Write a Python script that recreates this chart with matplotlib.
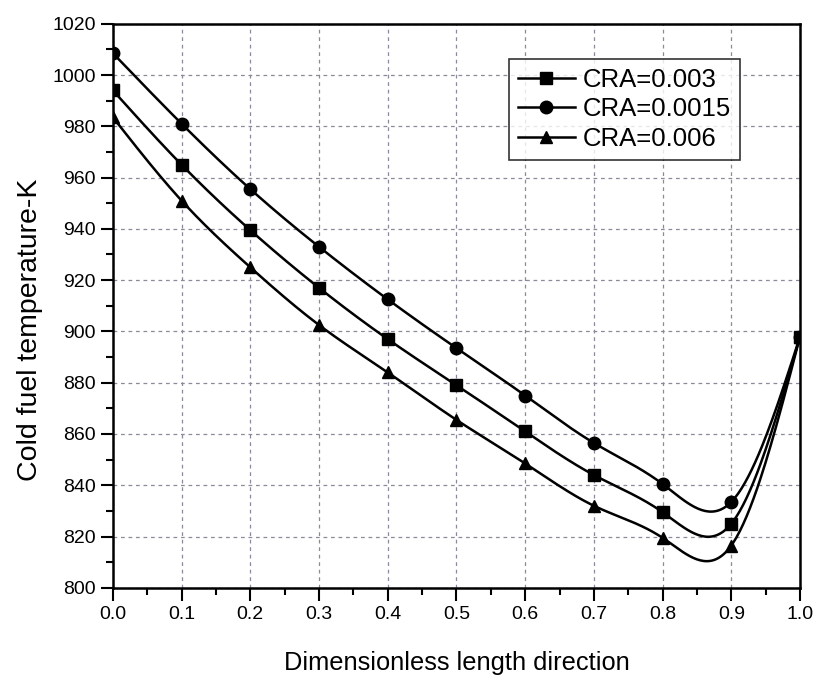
import numpy as np
import matplotlib.pyplot as plt

x = [0.0, 0.1, 0.2, 0.3, 0.4, 0.5, 0.6, 0.7, 0.8, 0.9, 1.0]
cra_003 = [994, 965, 939.5, 917, 897, 879, 861, 844, 829.5, 825, 898]
cra_0015 = [1008.5, 981, 955.5, 933, 912.5, 893.5, 875, 856.5, 840.5, 833.5, 898]
cra_006 = [983.5, 951, 925, 902.5, 884, 865.5, 848.5, 832, 819.5, 816.5, 898]


def natural_spline(xs, ys, n=400):
    # smooth line through the points (natural cubic spline)
    xs = np.asarray(xs, float)
    ys = np.asarray(ys, float)
    k = len(xs)
    h = np.diff(xs)
    A = np.zeros((k, k))
    b = np.zeros(k)
    A[0, 0] = A[-1, -1] = 1
    for i in range(1, k - 1):
        A[i, i - 1] = h[i - 1]
        A[i, i] = 2 * (h[i - 1] + h[i])
        A[i, i + 1] = h[i]
        b[i] = 6 * ((ys[i + 1] - ys[i]) / h[i] - (ys[i] - ys[i - 1]) / h[i - 1])
    M = np.linalg.solve(A, b)
    xx = np.linspace(xs[0], xs[-1], n)
    idx = np.clip(np.searchsorted(xs, xx) - 1, 0, k - 2)
    x0, x1 = xs[idx], xs[idx + 1]
    hh = x1 - x0
    t0, t1 = x1 - xx, xx - x0
    yy = (M[idx] * t0**3 + M[idx + 1] * t1**3) / (6 * hh) \
        + (ys[idx] / hh - M[idx] * hh / 6) * t0 \
        + (ys[idx + 1] / hh - M[idx + 1] * hh / 6) * t1
    return xx, yy


plt.rcParams['font.family'] = ['Liberation Sans', 'DejaVu Sans']

fig = plt.figure(figsize=(8.18, 6.78), dpi=100)
ax = fig.add_axes([0.138, 0.133, 0.840, 0.832])

series = [(cra_003, 's', 'CRA=0.003'),
          (cra_0015, 'o', 'CRA=0.0015'),
          (cra_006, '^', 'CRA=0.006')]
for ys, m, lab in series:
    xx, yy = natural_spline(x, ys)
    ax.plot(xx, yy, color='black', lw=1.8)
    ax.plot(x, ys, linestyle='none', marker=m, color='black', markersize=9)
    # legend proxy
    ax.plot([], [], color='black', lw=1.8, marker=m, markersize=9, label=lab)

ax.set_xlim(0, 1.0)
ax.set_ylim(800, 1020)
ax.set_xticks(np.arange(0, 1.01, 0.1))
ax.set_xticks(np.arange(0.05, 1.0, 0.1), minor=True)
ax.set_yticks(np.arange(800, 1021, 20))
ax.set_yticks(np.arange(810, 1020, 20), minor=True)
ax.set_xticklabels([f"{v:.1f}" for v in np.arange(0, 1.01, 0.1)])
ax.tick_params(which='major', direction='out', length=9, width=1.5, labelsize=14)
ax.tick_params(which='minor', direction='out', length=5, width=1.5)
ax.tick_params(axis='x', which='major', pad=4)
ax.tick_params(top=False, right=False, which='both')
for s in ax.spines.values():
    s.set_linewidth(1.8)

ax.grid(True, which='major', linestyle=(0, (3, 3)), color='#8a8a9a', lw=0.9)

ax.set_xlabel('Dimensionless length direction', fontsize=18.3)
ax.set_ylabel('Cold fuel temperature-K', fontsize=20.5)
ax.yaxis.set_label_coords(-0.102, 0.457)
ax.xaxis.set_label_coords(0.5, -0.112)

leg = ax.legend(loc='upper right', bbox_to_anchor=(0.912, 0.937), fontsize=18.5,
                frameon=True, fancybox=False, edgecolor='black',
                handlelength=2.2, handletextpad=0.3, borderpad=0.35,
                labelspacing=0.2, borderaxespad=0)
leg.get_frame().set_linewidth(1.2)

fig.savefig('out.png', dpi=100, facecolor='white')
